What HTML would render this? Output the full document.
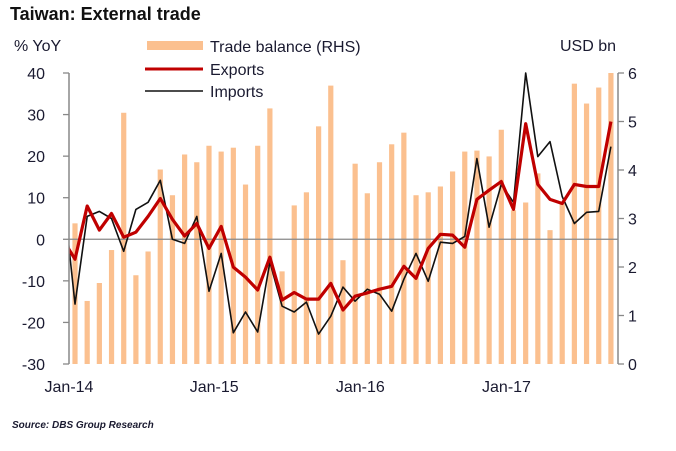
<!DOCTYPE html>
<html><head><meta charset="utf-8"><style>
body{margin:0;background:#fff;}
svg text{font-family:"Liberation Sans",sans-serif;}
</style></head><body>
<svg id="chart" width="676" height="446" xmlns="http://www.w3.org/2000/svg">
<text x="10" y="20" font-size="18" font-weight="bold" fill="#111">Taiwan: External trade</text>
<text x="14" y="51" font-size="16" fill="#1a1a30">% YoY</text>
<text x="560" y="51" font-size="16" fill="#1a1a30">USD bn</text>
<rect x="147" y="41" width="56" height="9" fill="#fbc08f"/>
<text x="210" y="52" font-size="16" fill="#1a1a30">Trade balance (RHS)</text>
<line x1="145" y1="69" x2="203" y2="69" stroke="#c00000" stroke-width="3"/>
<text x="210" y="75" font-size="16" fill="#1a1a30">Exports</text>
<line x1="145" y1="91" x2="203" y2="91" stroke="#111" stroke-width="1.5"/>
<text x="210" y="97" font-size="16" fill="#1a1a30">Imports</text>
<g id="plot"></g>
<text x="12" y="428" font-size="10" font-weight="bold" font-style="italic" fill="#1a1a30">Source: DBS Group Research</text>
</svg>
<script>
const xLabels=["Jan-14","Jan-15","Jan-16","Jan-17"];
const xLabelIdx=[0,12,24,36];
const leftTicks=[40,30,20,10,0,-10,-20,-30];
const rightTicks=[6,5,4,3,2,1,0];
const balance=[2.90,1.30,1.67,2.35,5.18,1.83,2.32,4.01,3.48,4.32,4.16,4.50,4.38,4.46,3.70,4.50,5.27,1.91,3.27,3.54,4.90,5.74,2.14,4.13,3.52,4.16,4.53,4.77,3.48,3.54,3.66,3.97,4.38,4.40,4.28,4.83,3.17,3.33,3.93,2.76,3.3,5.78,5.37,5.70,6.0];
const exportsPrev=0;
const importsPrev=12;
const exportsYoY=[-4.8,8,2.2,6.2,0.5,1.7,5.5,9.8,4.8,0.8,3.8,-2.2,3.1,-6.7,-9.1,-12.2,-4.3,-14.6,-12.8,-14.4,-14.4,-10.6,-17.0,-13.7,-12.9,-12,-11.3,-6.5,-9.4,-2.2,1.2,1,-1.9,9.6,11.8,13.9,7.2,27.8,13.2,9.6,8.6,13.2,12.7,12.7,28.3];
const importsYoY=[-15.6,5.5,6.7,5.0,-2.9,7.2,8.9,14.2,0,-1,5.5,-12.5,-3.4,-22.5,-17.5,-22.3,-5.5,-16.1,-17.5,-15.1,-22.8,-18.5,-11.5,-14.9,-12,-13.2,-17.3,-9.6,-3.4,-10.1,-0.7,-1,0.7,19.4,2.9,13.2,8.9,40,19.9,23.5,10.3,3.8,6.5,6.7,22.3];

const NS="http://www.w3.org/2000/svg";
const g=document.getElementById('plot');
const L=69,R=618,T=73,B=364;
const x=i=>75+i*12.18;
const yL=v=>T+(40-v)*(B-T)/70;
const yR=v=>T+(6-v)*(B-T)/6;
function mk(tag,attrs){const e=document.createElementNS(NS,tag);for(const k in attrs)e.setAttribute(k,attrs[k]);g.appendChild(e);return e;}
const cp=document.createElementNS(NS,'clipPath');cp.setAttribute('id','clip');
const cr=document.createElementNS(NS,'rect');cr.setAttribute('x',L);cr.setAttribute('y',T-5);cr.setAttribute('width',R-L);cr.setAttribute('height',B-T+10);cp.appendChild(cr);g.appendChild(cp);
balance.forEach((v,i)=>{
  const e=mk('rect',{x:x(i)-2.6,y:yR(v),width:5.2,height:yR(0)-yR(v),fill:'#fbc08f'});
  
  
});
const z=mk('line',{x1:L,y1:yL(0),x2:R,y2:yL(0),stroke:'#888','stroke-width':1.3});


function line(prev,arr,col,w,name){
  let d='M'+x(-1)+','+yL(prev);
  arr.forEach((v,i)=>{d+=' L'+x(i).toFixed(1)+','+yL(v).toFixed(1);});
  const p=mk('path',{d:d,fill:'none',stroke:col,'stroke-width':w,'stroke-linejoin':'round','clip-path':'url(#clip)'});
  
  
}
line(importsPrev,importsYoY,'#111',1.6,'imports-line');
line(exportsPrev,exportsYoY,'#c00000',3.2,'exports-line');
const la=mk('line',{x1:L,y1:T,x2:L,y2:B,stroke:'#888','stroke-width':1.5});


const ra=mk('line',{x1:R,y1:T,x2:R,y2:B,stroke:'#888','stroke-width':1.5});


leftTicks.forEach(v=>{
  mk('line',{x1:L-6,y1:yL(v),x2:L,y2:yL(v),stroke:'#888','stroke-width':1.3});
  const t=mk('text',{x:45,y:yL(v)+6,'font-size':16,'text-anchor':'end',fill:'#1a1a30'});t.textContent=v;
  
  
});
rightTicks.forEach(v=>{
  mk('line',{x1:R,y1:yR(v),x2:R+6,y2:yR(v),stroke:'#888','stroke-width':1.3});
  const t=mk('text',{x:628,y:yR(v)+6,'font-size':16,fill:'#1a1a30'});t.textContent=v;
  
  
});
xLabels.forEach((s,k)=>{
  const xi=k===0?L:x(xLabelIdx[k])-7;
  const t=mk('text',{x:xi,y:392,'font-size':16,'text-anchor':'middle',fill:'#1a1a30'});t.textContent=s;
  
  
});
</script>
</body></html>
